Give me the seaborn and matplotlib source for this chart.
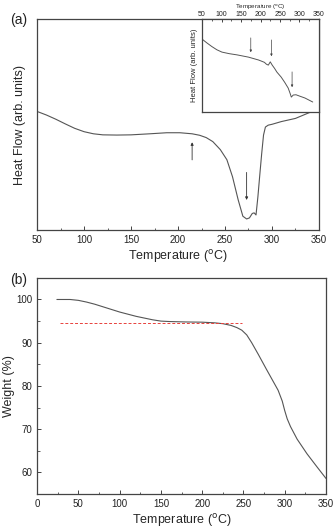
import matplotlib
matplotlib.use("Agg")
import matplotlib.pyplot as plt
import seaborn as sns
from matplotlib.ticker import MultipleLocator, NullLocator

sns.set_style("ticks")
plt.rcParams['font.family'] = ['Liberation Sans', 'DejaVu Sans']

# (a) DSC main curve (arbitrary units)
dsc_temp = [50, 60, 70, 80, 90, 100, 110, 120, 135, 150, 170, 188, 202, 215, 223, 230, 237, 245, 252, 258,
            264, 269, 273, 276, 279, 281, 283, 285, 287, 289, 291, 293, 296, 300, 310, 325, 340]
dsc_heat = [0.562, 0.545, 0.525, 0.503, 0.482, 0.466, 0.456, 0.451, 0.450, 0.451, 0.456, 0.461, 0.461,
            0.456, 0.449, 0.438, 0.419, 0.381, 0.333, 0.252, 0.143, 0.065, 0.052, 0.057, 0.078, 0.081,
            0.071, 0.157, 0.26, 0.36, 0.45, 0.488, 0.497, 0.501, 0.514, 0.529, 0.557]

# (a) inset curve
ins_temp = [50, 62, 75, 88, 101, 120, 140, 169, 195, 210, 215, 220, 225, 230, 236, 242, 253, 262, 271,
            276, 279, 284, 291, 300, 314, 334]
ins_heat = [0.785, 0.745, 0.705, 0.670, 0.645, 0.628, 0.615, 0.591, 0.56, 0.535, 0.515, 0.505, 0.540,
            0.505, 0.470, 0.43, 0.376, 0.32, 0.258, 0.20, 0.161, 0.183, 0.186, 0.172, 0.151, 0.108]

# (b) TGA curve
tga_temp = [24, 40, 50, 60, 70, 80, 90, 100, 110, 120, 130, 140, 150, 160, 180, 200, 215, 225, 235, 242,
            248, 254, 260, 268, 278, 285, 292, 297, 300, 303, 307, 315, 327, 339, 350]
tga_weight = [100, 100, 99.8, 99.4, 98.9, 98.3, 97.7, 97.1, 96.6, 96.1, 95.7, 95.3, 95.0, 94.9, 94.8,
              94.75, 94.6, 94.4, 94.0, 93.5, 92.9, 91.8, 90.0, 87.3, 83.8, 81.4, 79.0, 76.5, 74.3, 72.4,
              70.6, 67.7, 64.3, 61.3, 58.6]

# reference plateau line in (b)
plateau_temp = [28, 248]
plateau_weight = [94.6, 94.6]

# arrows: (x, y_tail, y_head)
main_arrows = [(215, 0.319, 0.429), (273, 0.286, 0.129)]
inset_arrows = [(175, 0.828, 0.613), (228, 0.806, 0.570), (281, 0.462, 0.237)]

line_c = "#555555"
spine_c = "#444444"

fig = plt.figure(figsize=(3.34, 5.31), dpi=100)

def style(ax, fs=7):
    for s in ax.spines.values():
        s.set_color(spine_c)
        s.set_linewidth(0.9)
    ax.tick_params(direction="in", which="both", colors=spine_c, labelcolor="#222222", labelsize=fs)
    ax.tick_params(which="major", length=3, width=0.7)
    ax.tick_params(which="minor", length=1.8, width=0.6)

# ---- (a) ----
axa = fig.add_axes([0.111, 0.567, 0.844, 0.397])
sns.lineplot(x=dsc_temp, y=dsc_heat, ax=axa, color=line_c, lw=0.8)
axa.set_xlim(50, 350)
axa.set_ylim(0, 1)
axa.xaxis.set_major_locator(MultipleLocator(50))
axa.xaxis.set_minor_locator(MultipleLocator(25))
axa.yaxis.set_major_locator(NullLocator())
style(axa)
axa.set_xlabel("Temperature ($^{\\rm o}$C)", fontsize=9, labelpad=2)
axa.set_ylabel("Heat Flow (arb. units)", fontsize=9, labelpad=8)
for x, y0, y1 in main_arrows:
    axa.annotate("", xy=(x, y1), xytext=(x, y0),
                 arrowprops=dict(arrowstyle="-|>", color="#333333", lw=0.6, mutation_scale=4))
fig.text(0.03, 0.955, "(a)", fontsize=10, color="#222222")

# inset
axi = fig.add_axes([0.605, 0.789, 0.350, 0.175])
sns.lineplot(x=ins_temp, y=ins_heat, ax=axi, color=line_c, lw=0.7)
axi.set_xlim(50, 350)
axi.set_ylim(0, 1)
axi.xaxis.set_major_locator(MultipleLocator(50))
axi.xaxis.set_minor_locator(MultipleLocator(25))
axi.yaxis.set_major_locator(NullLocator())
style(axi, fs=5)
axi.tick_params(axis="x", which="both", top=True, bottom=False, labeltop=True, labelbottom=False, pad=0.8)
axi.tick_params(which="major", length=2)
axi.tick_params(which="minor", length=1.2)
axi.xaxis.set_label_position("top")
axi.set_xlabel("Temperature ($^{\\rm o}$C)", fontsize=4.5, labelpad=1.2)
axi.set_ylabel("Heat Flow (arb. units)", fontsize=5.5, labelpad=3)
for x, y0, y1 in inset_arrows:
    axi.annotate("", xy=(x, y1), xytext=(x, y0),
                 arrowprops=dict(arrowstyle="-|>", color="#444444", lw=0.5, mutation_scale=3))

# ---- (b) ----
axb = fig.add_axes([0.111, 0.0697, 0.865, 0.407])
sns.lineplot(x=tga_temp, y=tga_weight, ax=axb, color=line_c, lw=0.8)
axb.plot(plateau_temp, plateau_weight, color="#e8413c", lw=0.7, linestyle=(0, (3, 2)))
axb.set_xlim(0, 350)
axb.set_ylim(55, 105)
axb.xaxis.set_major_locator(MultipleLocator(50))
axb.xaxis.set_minor_locator(MultipleLocator(25))
axb.yaxis.set_major_locator(MultipleLocator(10))
axb.yaxis.set_minor_locator(MultipleLocator(5))
style(axb)
axb.set_xlabel("Temperature ($^{\\rm o}$C)", fontsize=9, labelpad=2)
axb.set_ylabel("Weight (%)", fontsize=9, labelpad=1)
fig.text(0.03, 0.465, "(b)", fontsize=10, color="#222222")

fig.savefig("out.png", dpi=100)
